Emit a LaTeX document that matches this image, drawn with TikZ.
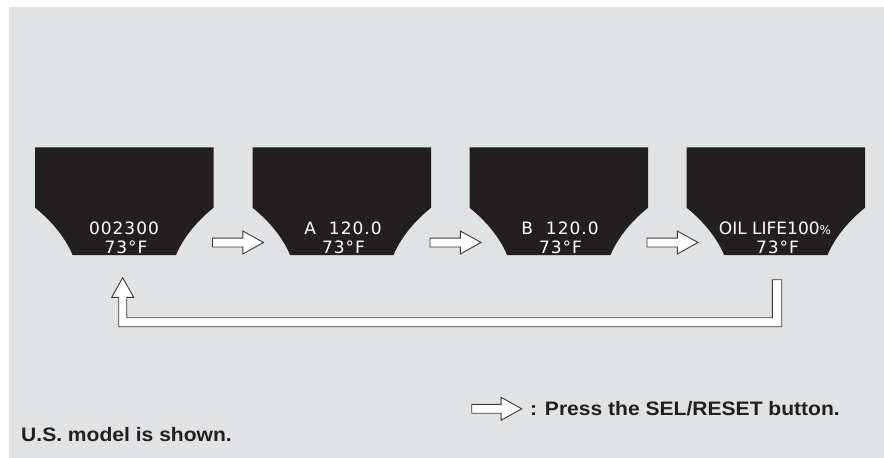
\documentclass[tikz,border=0pt]{standalone}
\usepackage{fontspec}
\setmainfont{Liberation Sans}
\newfontfamily\lcdfont{DejaVu Sans}
\newfontfamily\lcdwide[LetterSpace=6]{DejaVu Sans}
\newfontfamily\notefont[FakeStretch=1.08]{Liberation Sans}
\usepackage{tikz}
\usetikzlibrary{shapes.arrows, calc}
\definecolor{panelgray}{HTML}{E1E2E4}
\definecolor{lcdblack}{HTML}{231F20}
\definecolor{edgegray}{HTML}{3A3A3A}

% one display window, #1 = its top left corner
\newcommand{\lcdpanel}[1]{%
  \fill[lcdblack, shift={(#1)}] (0,0) -- (178.6,0) -- (178.6,60.4)
    .. controls (163.6,72.4) and (149,88.7) .. (141,107.7) -- (37.6,107.7)
    .. controls (29.6,88.7) and (15,72.4) .. (0,60.4) -- cycle;}

\begin{document}
\begin{tikzpicture}[x=1pt, y=-1pt,
            stepper/.style={single arrow, draw=edgegray, fill=white, line width=0.9pt,
                minimum height=51pt, inner sep=4pt, single arrow head extend=7pt,
                single arrow tip angle=58},
            lcdtxt/.style={text=white, font=\lcdwide\fontsize{17}{17}\selectfont,
                anchor=base, inner sep=0},
            note/.style={font=\notefont\bfseries\fontsize{19.5}{20}\selectfont,
                text=lcdblack, anchor=base west, inner sep=0}]
            \useasboundingbox (0,0) rectangle (884,458);
            \fill[panelgray] (9,7) rectangle (884,458);

            % Displays
            \foreach \i/\x in {1/35, 2/252.5, 3/469.5, 4/686.5} {
                \coordinate (d\i) at (\x,147.3);
                \lcdpanel{d\i}
                \node[lcdtxt] (d\i bot) at ($(d\i)+(91,106)$) {73°F};
            }
            \node[lcdtxt] (d1top) at ($(d1)+(89,86.7)$) {002300};
            \node[lcdtxt] (d2top) at ($(d2)+(90.5,86.7)$) {A\hspace{13pt}120.0};
            \node[lcdtxt] (d3top) at ($(d3)+(90.5,86.7)$) {B\hspace{13pt}120.0};
            \node[lcdtxt, font=\lcdfont\fontsize{17}{17}\selectfont] (d4top) at ($(d4)+(88.5,86.7)$)
                {OIL LIFE100{\fontsize{12}{12}\selectfont\%}};

            % SEL/RESET steps
            \foreach \i in {1,2,3} {
                \node[stepper] (s\i) at ($(d\i)+(199,95.2)$) {};
            }

            % back to the first display
            \coordinate (loopL) at (122.7,277.7);
            \coordinate (loopR) at (777,279.7);
            \draw[fill=white, draw=edgegray, line width=0.9pt, line join=miter]
                ($(loopR)+(-4.7,0)$) -- ($(loopR)+(4.7,0)$) |- ($(loopL)+(-4,49)$)
                -- ($(loopL)+(-4,19.6)$) -- ($(loopL)+(-11,19.6)$) -- (loopL)
                -- ($(loopL)+(11,19.6)$) -- ($(loopL)+(4,19.6)$) |- ($(loopR)+(-4.7,38)$)
                -- cycle;

            % Legend
            \node[stepper, minimum height=50pt] (key) at (492.7,408.8) {};
            \node[note] (keytext) at ($(key.east)+(7.3,6.2)$) {: Press the SEL/RESET button.};
            \node[note] (usnote) at (21,441.7) {U.S. model is shown.};
        \end{tikzpicture}
\end{document}
